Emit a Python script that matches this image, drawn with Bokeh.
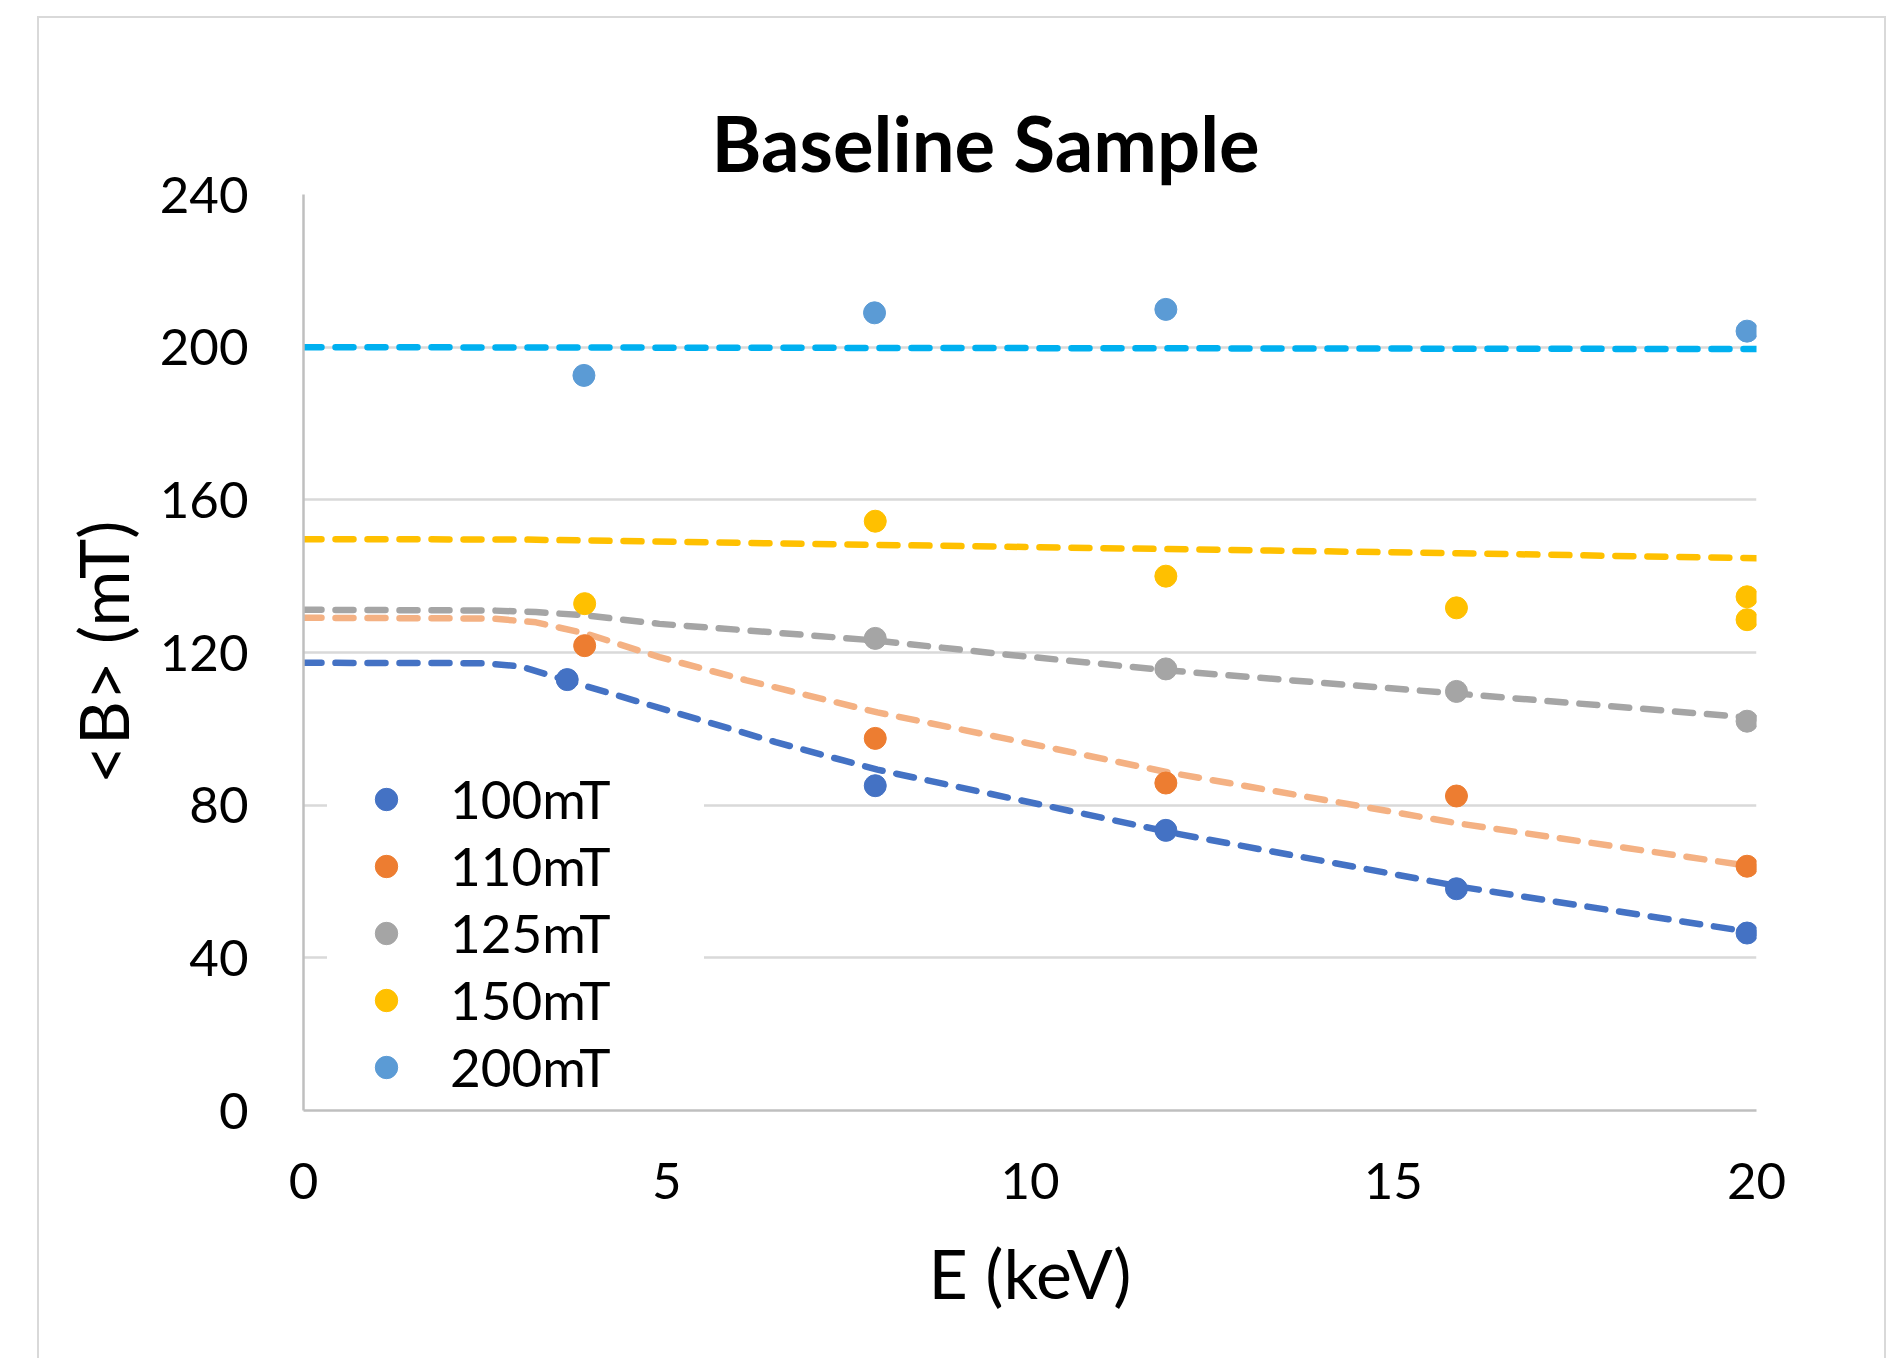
from bokeh.plotting import figure
from bokeh.models import Legend, LegendItem, FixedTicker
from bokeh.embed import file_html
from bokeh.resources import INLINE

# ---------------- data ----------------
series_names = ["100mT", "110mT", "125mT", "150mT", "200mT"]
point_colors = ["#4472C4", "#ED7D31", "#A5A5A5", "#FFC000", "#5B9BD5"]
line_colors = ["#4472C4", "#F4B183", "#A5A5A5", "#FFC000", "#00B0F0"]

# measured points (E in keV, <B> in mT)
e_100 = [3.63, 7.87, 11.87, 15.87, 19.87]
b_100 = [112.9, 85.1, 73.4, 58.1, 46.5]
e_110 = [3.87, 7.87, 11.87, 15.87, 19.87]
b_110 = [121.8, 97.5, 85.8, 82.4, 64.0]
e_125 = [7.87, 11.87, 15.87, 19.87]
b_125 = [123.7, 115.7, 109.8, 102.0]
e_150 = [3.87, 7.87, 11.87, 15.87, 19.87, 19.87]
b_150 = [132.8, 154.4, 140.0, 131.7, 134.6, 128.6]
e_200 = [3.86, 7.86, 11.87, 19.87]
b_200 = [192.6, 209.0, 209.9, 204.2]

# model (dashed) curves
le_100 = [0, 2.5, 3.0, 3.6, 4.4, 6.5, 7.9, 12, 16, 20]
lb_100 = [117.3, 117.2, 116.3, 112.8, 108.3, 96.5, 89.3, 72.6, 58.4, 46.5]
le_110 = [0, 2.6, 3.2, 3.9, 4.9, 6.1, 7.9, 9.6, 11.9, 15.9, 20]
lb_110 = [129.1, 128.9, 127.9, 124.9, 118.8, 112.7, 104.3, 97.7, 88.6, 75.2, 63.8]
le_125 = [0, 2.6, 3.2, 3.9, 4.9, 6.1, 7.9, 9.6, 11.9, 15.9, 20]
lb_125 = [131.2, 131.0, 130.6, 129.7, 127.5, 125.8, 123.1, 119.6, 115.3, 109.2, 102.8]
le_150 = [0, 3, 7.9, 11.9, 15.9, 20]
lb_150 = [149.7, 149.6, 148.2, 147.1, 146.0, 144.7]
le_200 = [0, 20]
lb_200 = [200.0, 199.5]

x_ticks = [0, 5, 10, 15, 20]
y_ticks = [0, 40, 80, 120, 160, 200, 240]

points = [(e_100, b_100), (e_110, b_110), (e_125, b_125), (e_150, b_150), (e_200, b_200)]
lines = [(le_100, lb_100), (le_110, lb_110), (le_125, lb_125), (le_150, lb_150), (le_200, lb_200)]

FONT = "Lato"

p = figure(
    width=1849, height=1342,
    x_range=(0, 20), y_range=(0, 240),
    output_backend="svg", toolbar_location=None,
    min_border_left=264, min_border_right=132,
    min_border_top=176, min_border_bottom=250,
    margin=(16, 0, 0, 37),
    styles={"border-left": "2px solid #D9D9D9",
            "border-top": "2px solid #D9D9D9",
            "border-right": "2px solid #D9D9D9"},
)
p.outline_line_color = None
p.background_fill_color = "white"
p.border_fill_color = "white"

# title
p.title.text = "Baseline Sample"
p.title.text_font = FONT
p.title.text_font_style = "bold"
p.title.text_font_size = "76px"
p.title.align = "left"
p.title.offset = 408
p.title.standoff = 14
p.title.text_color = "black"

# axes
for ax in (p.xaxis[0], p.yaxis[0]):
    ax.major_tick_in = 0
    ax.major_tick_out = 0
    ax.minor_tick_in = 0
    ax.minor_tick_out = 0
    ax.axis_line_color = "#BFBFBF"
    ax.axis_line_width = 2.5
    ax.major_label_text_font = FONT
    ax.major_label_text_font_size = "51px"
    ax.major_label_text_color = "black"
    ax.axis_label_text_font = FONT
    ax.axis_label_text_font_size = "68px"
    ax.axis_label_text_font_style = "normal"
    ax.axis_label_text_color = "black"

p.xaxis.ticker = FixedTicker(ticks=x_ticks)
p.yaxis.ticker = FixedTicker(ticks=y_ticks)
p.xaxis.axis_label = "E (keV)"
p.yaxis.axis_label = "<B> (mT)"
p.xaxis.major_label_standoff = 52
p.yaxis.major_label_standoff = 55
p.xaxis.axis_label_standoff = 30
p.yaxis.axis_label_standoff = 14

p.xgrid.grid_line_color = None
p.ygrid.grid_line_color = "#D9D9D9"
p.ygrid.grid_line_width = 2.5

# dashed model curves
for (xs, ys), c in zip(lines, line_colors):
    p.line(xs, ys, line_color=c, line_width=6.5, line_dash="18 14", line_cap="round")

# points
items = []
for (xs, ys), c, name in zip(points, point_colors, series_names):
    r = p.scatter(xs, ys, size=22, marker="circle", fill_color=c, line_color=c)
    items.append(LegendItem(label=name, renderers=[r]))

legend = Legend(
    items=items,
    location=(24, 12),
    label_text_font=FONT,
    label_text_font_size="53px",
    label_text_color="black",
    glyph_width=118, glyph_height=56,
    label_height=56, label_width=254,
    label_standoff=5,
    spacing=4,
    padding=10,
    margin=0,
    border_line_color=None,
    background_fill_color="white",
    background_fill_alpha=1.0,
)
p.add_layout(legend, "center")

open("out.html", "w").write(file_html(p, INLINE))
